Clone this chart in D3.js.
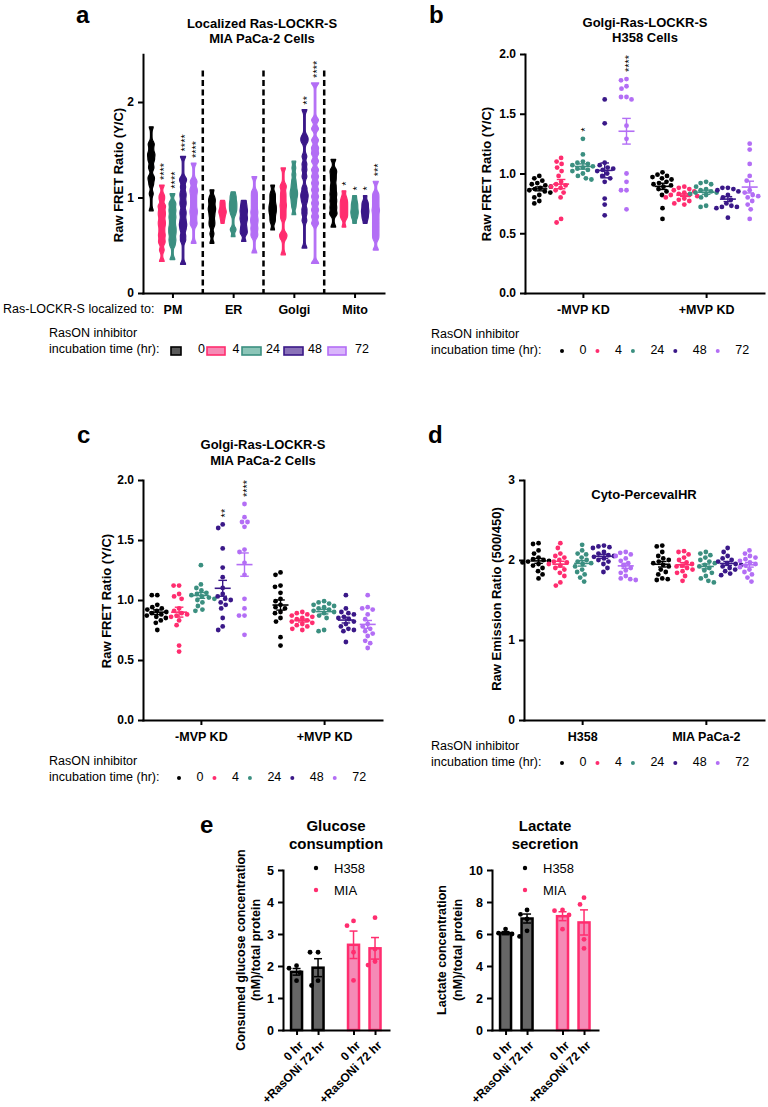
<!DOCTYPE html>
<html><head><meta charset="utf-8">
<script src="https://cdnjs.cloudflare.com/ajax/libs/d3/7.8.5/d3.min.js"></script>
<style>
body{margin:0;background:#fff;}
svg{display:block;}
</style></head><body>
<svg id="chart" width="768" height="1107"></svg>
<script>
// ---------------- DATA ----------------
const hours = ["0","4","24","48","72"];
const hourColors = ["#000000","#ff2d6f","#3b8f80","#3a1888","#b36ef5"];
const hourFills = ["#5a5a5a","#f58bb5","#8cc5b8","#8a72b8","#d9b5fb"];

// Panel a: violin samples (Raw FRET ratio) per localization, per time (0,4,24,48,72 h)
const aCategories = ["PM","ER","Golgi","Mito"];
const aPM = [
 [1.74,1.57,1.55,1.51,1.47,1.45,1.43,1.40,1.38,1.33,1.30,1.22,1.20,1.17,1.13,1.04,0.86],
 [1.13,1.02,0.98,0.92,0.90,0.86,0.83,0.80,0.76,0.73,0.70,0.66,0.62,0.59,0.55,0.52,0.45,0.33],
 [1.04,0.95,0.92,0.88,0.85,0.81,0.78,0.74,0.70,0.67,0.64,0.61,0.57,0.54,0.50,0.35],
 [1.43,1.20,1.17,1.11,1.05,1.01,0.96,0.92,0.86,0.82,0.77,0.73,0.70,0.66,0.60,0.55,0.30],
 [1.36,1.18,1.15,1.10,1.07,1.04,1.00,0.96,0.92,0.88,0.85,0.82,0.78,0.74,0.71,0.52]
];
const aER = [
 [1.08,1.01,0.98,0.96,0.93,0.90,0.88,0.86,0.83,0.80,0.76,0.73,0.70,0.62,0.52],
 [0.97,0.95,0.93,0.91,0.89,0.87,0.86,0.85,0.84,0.83,0.81,0.79,0.77,0.73],
 [1.06,1.02,1.00,0.97,0.95,0.93,0.91,0.89,0.87,0.85,0.82,0.67,0.66,0.59],
 [0.97,0.93,0.90,0.87,0.85,0.82,0.79,0.77,0.74,0.70,0.67,0.64,0.62,0.54],
 [1.22,1.06,1.02,0.98,0.94,0.90,0.86,0.83,0.79,0.76,0.73,0.69,0.66,0.62,0.59,0.42]
];
const aGolgi = [
 [1.13,1.05,1.02,0.99,0.96,0.93,0.91,0.89,0.87,0.85,0.83,0.80,0.77,0.74,0.66],
 [1.31,1.13,1.10,1.05,1.01,0.97,0.93,0.90,0.86,0.82,0.78,0.62,0.60,0.57,0.40],
 [1.38,1.31,1.24,1.18,1.14,1.11,1.08,1.06,1.04,1.02,1.00,0.97,0.94,0.90,0.82],
 [1.92,1.64,1.61,1.58,1.43,1.35,1.29,1.22,1.10,1.05,1.02,0.99,0.95,0.88,0.83,0.76,0.47],
 [2.20,1.81,1.72,1.60,1.52,1.46,1.38,1.29,1.22,1.15,1.08,1.01,0.94,0.87,0.80,0.73,0.31]
];
const aMito = [
 [1.40,1.29,1.26,1.22,1.18,1.13,1.09,1.05,1.02,0.98,0.95,0.91,0.88,0.84,0.82,0.69],
 [1.07,1.01,0.98,0.96,0.94,0.92,0.90,0.88,0.86,0.84,0.82,0.80,0.78,0.69],
 [1.02,0.98,0.95,0.93,0.91,0.89,0.87,0.85,0.84,0.82,0.80,0.78,0.73],
 [1.02,0.96,0.94,0.92,0.90,0.88,0.86,0.85,0.83,0.81,0.79,0.77,0.73],
 [1.17,1.04,1.00,0.96,0.92,0.88,0.85,0.81,0.77,0.73,0.69,0.65,0.61,0.57,0.45]
];
const aStars = [["","****","****","****","****"],["","","","",""],["","","","**","****"],["","*","*","*","***"]];
const aTicks = [0,1,2];

// Panel b: Golgi-Ras-LOCKR-S, H358
const mvpGroups = ["-MVP KD","+MVP KD"];
const bNoKD = [
 [0.98,0.96,0.94,0.92,0.91,0.90,0.89,0.88,0.87,0.86,0.85,0.84,0.82,0.80,0.77,0.75],
 [1.13,1.10,1.08,1.05,1.02,0.98,0.93,0.91,0.90,0.89,0.88,0.86,0.84,0.80,0.62,0.59],
 [1.29,1.16,1.10,1.09,1.08,1.07,1.06,1.05,1.04,1.03,1.02,1.00,0.98,0.96,0.95],
 [1.62,1.42,1.09,1.07,1.05,1.04,1.03,1.02,1.00,0.98,0.96,0.93,0.79,0.74,0.65],
 [1.79,1.78,1.73,1.71,1.64,1.64,1.62,1.40,1.29,1.00,0.93,0.86,0.86,0.70]
];
const bKD = [
 [1.01,0.99,0.98,0.97,0.96,0.95,0.93,0.92,0.91,0.90,0.89,0.87,0.85,0.82,0.71,0.62],
 [0.89,0.88,0.87,0.86,0.85,0.84,0.83,0.82,0.82,0.81,0.80,0.79,0.78,0.77,0.75,0.74],
 [0.93,0.92,0.91,0.89,0.87,0.86,0.85,0.84,0.84,0.83,0.82,0.80,0.73,0.72],
 [0.88,0.88,0.87,0.86,0.85,0.82,0.80,0.78,0.75,0.73,0.72,0.72,0.71,0.63],
 [1.25,1.20,1.08,0.98,0.94,0.84,0.86,0.82,0.81,0.80,0.77,0.74,0.70,0.62]
];
const bStars = [["","","*","","****"],["","","","",""]];
const fretTicks = [0,0.5,1,1.5,2];

// Panel c: Golgi-Ras-LOCKR-S, MIA PaCa-2
const cNoKD = [
 [1.04,1.04,0.96,0.94,0.93,0.92,0.91,0.90,0.89,0.88,0.87,0.86,0.85,0.83,0.81,0.75],
 [1.12,1.12,1.05,1.03,1.01,0.93,0.91,0.89,0.88,0.87,0.86,0.83,0.79,0.62,0.57],
 [1.29,1.13,1.10,1.08,1.06,1.05,1.04,1.03,1.02,1.01,1.00,0.98,0.95,0.92,0.91],
 [1.63,1.60,1.43,1.27,1.19,1.10,1.05,1.03,1.01,1.00,0.98,0.96,0.93,0.85,0.78,0.75],
 [1.80,1.69,1.65,1.65,1.61,1.42,1.40,1.31,1.21,1.01,0.93,0.87,0.87,0.71]
];
const cKD = [
 [1.23,1.21,1.12,1.11,1.06,1.01,0.99,0.96,0.94,0.93,0.90,0.89,0.85,0.82,0.69,0.62],
 [0.90,0.89,0.88,0.87,0.86,0.85,0.84,0.83,0.82,0.81,0.80,0.79,0.78,0.76,0.75],
 [0.99,0.98,0.97,0.96,0.95,0.94,0.93,0.92,0.91,0.90,0.89,0.87,0.85,0.75,0.74],
 [1.04,0.93,0.90,0.89,0.88,0.86,0.85,0.84,0.82,0.80,0.78,0.76,0.75,0.74,0.65],
 [1.04,0.94,0.93,0.92,0.88,0.84,0.80,0.78,0.76,0.74,0.72,0.70,0.66,0.64,0.60]
];
const cStars = [["","","","**","****"],["","","","",""]];

// Panel d: Cyto-PercevalHR
const dGroups = ["H358","MIA PaCa-2"];
const dH358 = [
 [2.21,2.20,2.12,2.08,2.03,2.01,2.00,1.99,1.98,1.97,1.95,1.93,1.90,1.86,1.82,1.77],
 [2.21,2.15,2.08,2.05,2.03,2.00,1.98,1.97,1.95,1.93,1.90,1.88,1.84,1.80,1.72,1.68],
 [2.19,2.12,2.08,2.07,2.03,2.00,1.98,1.96,1.95,1.92,1.88,1.85,1.82,1.78,1.73],
 [2.18,2.17,2.16,2.15,2.10,2.08,2.06,2.05,2.04,2.02,2.00,1.98,1.95,1.90,1.85],
 [2.10,2.09,2.07,2.05,2.02,1.99,1.96,1.93,1.90,1.87,1.84,1.80,1.77,1.76,1.75]
];
const dMIA = [
 [2.18,2.17,2.10,2.05,2.02,2.00,1.98,1.96,1.94,1.92,1.88,1.85,1.82,1.77,1.76,1.75],
 [2.11,2.10,2.07,2.03,2.00,1.97,1.95,1.93,1.92,1.90,1.88,1.86,1.84,1.80,1.74],
 [2.10,2.08,2.06,2.03,2.00,1.98,1.96,1.94,1.92,1.90,1.87,1.84,1.80,1.77,1.74,1.72],
 [2.15,2.10,2.05,2.02,2.00,1.98,1.96,1.95,1.94,1.92,1.90,1.88,1.86,1.83,1.81],
 [2.12,2.08,2.05,2.03,2.01,1.99,1.97,1.95,1.93,1.91,1.88,1.85,1.82,1.78,1.73]
];
const dStars = [["","","","",""],["","","","",""]];
const dTicks = [0,1,2,3];

// Panel e
const eLines = ["H358","MIA"];
const eTimeLabels = ["0 hr","+RasONi 72 hr"];
const glucoseH358 = [[1.93,2.01,1.54,1.79],[2.43,2.43,1.39,1.54]];
const glucoseMIA = [[3.41,3.26,2.43,1.55],[3.51,2.53,2.03,2.14]];
const lactateH358 = [[6.31,6.00,5.85,6.05],[7.50,7.23,6.94,6.20]];
const lactateMIA = [[7.50,7.46,7.19,6.30],[8.27,7.85,5.67,5.10]];
const glucoseTicks = [0,1,2,3,4,5];
const lactateTicks = [0,2,4,6,8,10];

// ---------------- DRAWING ----------------
const svg = d3.select("#chart");
const FONT = '"Liberation Sans", Arial, Helvetica, sans-serif';

function txt(x, y, s, o = {}) {
  const t = svg.append("text").attr("x", x).attr("y", y).text(s)
    .attr("font-family", FONT).attr("font-size", o.size || 12.5)
    .attr("font-weight", o.bold ? "bold" : "normal").attr("fill", o.fill || "#000")
    .attr("text-anchor", o.anchor || "start");
  if (o.rotate != null) t.attr("transform", `rotate(${o.rotate},${x},${y})`);
  return t;
}
function line(x1, y1, x2, y2, col, w) {
  svg.append("line").attr("x1", x1).attr("y1", y1).attr("x2", x2).attr("y2", y2)
    .attr("stroke", col).attr("stroke-width", w);
}
function styleAxis(g, size) {
  g.attr("font-family", FONT).attr("font-size", size).attr("font-weight", "bold");
  g.selectAll(".domain").attr("stroke", "#000").attr("stroke-width", 2).attr("stroke-linecap", "square");
  g.selectAll(".tick line").attr("stroke", "#000").attr("stroke-width", 2);
  g.selectAll(".tick text").attr("fill", "#000");
}
function yAxis(x0, y, ticks, fmt, size) {
  const g = svg.append("g").attr("transform", `translate(${x0},0)`)
    .call(d3.axisLeft(y).tickValues(ticks).tickFormat(fmt).tickSize(5).tickPadding(4).tickSizeOuter(0));
  styleAxis(g, size || 12);
  return g;
}
function xAxis(y0, x, size) {
  const g = svg.append("g").attr("transform", `translate(0,${y0})`)
    .call(d3.axisBottom(x).tickSize(5).tickPadding(7).tickSizeOuter(0));
  styleAxis(g, size || 12.5);
  return g;
}
function starText(x, yb, s) {
  if (!s) return;
  svg.append("text").attr("transform", `translate(${x},${yb}) rotate(-90)`)
    .attr("dy", "0.55em").attr("font-family", FONT).attr("font-size", 11)
    .attr("fill", "#000").text(s);
}
function swarm(vals, y, cx, r, gap) {
  const d = 2 * r + gap;
  const pts = vals.map(v => ({ v, y: y(v) })).sort((a, b) => a.y - b.y);
  const placed = [];
  for (const p of pts) {
    for (let k = 0; k < 400; k++) {
      const off = (k % 2 === 0 ? 1 : -1) * Math.ceil(k / 2) * 0.5;
      const xx = cx + off;
      if (placed.every(q => (q.x - xx) ** 2 + (q.y - p.y) ** 2 >= d * d)) { p.x = xx; break; }
    }
    placed.push(p);
  }
  return placed;
}
function meanSem(cx, vals, y, col, hw, cw) {
  const m = d3.mean(vals), se = d3.deviation(vals) / Math.sqrt(vals.length);
  line(cx - hw, y(m), cx + hw, y(m), col, 1.6);
  line(cx, y(m - se), cx, y(m + se), col, 1.4);
  line(cx - cw, y(m + se), cx + cw, y(m + se), col, 1.4);
  line(cx - cw, y(m - se), cx + cw, y(m - se), col, 1.4);
}

// ---- Panel a ----
(function () {
  txt(76, 23, "a", { size: 24, bold: true });
  txt(262, 28, "Localized Ras-LOCKR-S", { size: 13, bold: true, anchor: "middle" });
  txt(262, 43, "MIA PaCa-2 Cells", { size: 13, bold: true, anchor: "middle" });
  txt(123, 175, "Raw FRET Ratio (Y/C)", { size: 13, bold: true, anchor: "middle", rotate: -90 });
  const y = d3.scaleLinear([0, 2.5], [293, 54.25]);
  const x = d3.scalePoint(aCategories, [143, 384]).padding(0.485);
  const step = x.step();
  aCategories.slice(0, -1).forEach(c => {
    const xx = x(c) + step / 2;
    svg.append("line").attr("x1", xx).attr("x2", xx).attr("y1", y(2.33)).attr("y2", y(0))
      .attr("stroke", "#000").attr("stroke-width", 2.5).attr("stroke-dasharray", "6,3.5");
  });
  const all = [aPM, aER, aGolgi, aMito];
  all.forEach((series, ci) => {
    series.forEach((vals, ti) => {
      const cx = x(aCategories[ci]) + (ti - 2) * 10.6;
      const lo = d3.min(vals), hi = d3.max(vals), h = 0.022, n = 120;
      const grid = d3.range(n + 1).map(i => lo + (hi - lo) * i / n);
      const dens = grid.map(t => d3.sum(vals, v => Math.exp(-0.5 * ((t - v) / h) ** 2)));
      const dmax = d3.max(dens);
      const w = dens.map(dd => 0.8 + 2.9 * (dd / dmax));
      const area = d3.area().x0((d, i) => cx - w[i]).x1((d, i) => cx + w[i]).y(d => y(d)).curve(d3.curveBasis);
      svg.append("path").datum(grid).attr("d", area)
        .attr("fill", hourColors[ti]).attr("stroke", hourColors[ti]).attr("stroke-width", 1.2)
        .attr("stroke-linejoin", "round");
      starText(cx, y(hi) - 5, aStars[ci][ti]);
    });
  });
  yAxis(143, y, aTicks, d3.format("d"));
  xAxis(293, x, 12.5);
  txt(3, 313, "Ras-LOCKR-S localized to:", { size: 12.5 });
  txt(49, 337, "RasON inhibitor", { size: 12.5 });
  txt(49, 353, "incubation time (hr):", { size: 12.5 });
  const swX = [171, 207, 242, 284, 328], swW = [10, 18, 19, 19, 18], labEnd = [205, 239.5, 280, 322, 369];
  hours.forEach((hh, i) => {
    svg.append("rect").attr("x", swX[i]).attr("y", 347).attr("width", swW[i]).attr("height", 8)
      .attr("fill", hourFills[i]).attr("stroke", hourColors[i]).attr("stroke-width", 1.6);
    txt(labEnd[i], 353, hh, { size: 12.5, anchor: "end" });
  });
})();

// ---- dot panels ----
function dotPanel(cfg) {
  const y = d3.scaleLinear([0, cfg.ymax], [cfg.y0, cfg.yTop]);
  const x = d3.scalePoint(cfg.groups, [cfg.x0, cfg.x1]).padding(0.47);
  yAxis(cfg.x0, y, cfg.ticks, cfg.fmt);
  xAxis(cfg.y0, x, 12.5);
  cfg.data.forEach((series, gi) => {
    series.forEach((vals, ti) => {
      const cx = x(cfg.groups[gi]) + (ti - 2) * 21.8;
      const col = hourColors[ti];
      const pts = swarm(vals, y, cx, 2.4, 0.6);
      svg.append("g").selectAll("circle").data(pts).join("circle")
        .attr("cx", d => d.x).attr("cy", d => d.y).attr("r", 2.4).attr("fill", col);
      meanSem(cx, vals, y, col, 8, 4.3);
      starText(cx, y(d3.max(vals)) - 7, cfg.stars[gi][ti]);
    });
  });
  txt(cfg.legX, cfg.legY1, "RasON inhibitor", { size: 12.5 });
  txt(cfg.legX, cfg.legY2, "incubation time (hr):", { size: 12.5 });
  let xx = cfg.dotX;
  hours.forEach((hh, i) => {
    svg.append("circle").attr("cx", xx).attr("cy", cfg.legY2 - 3).attr("r", 2).attr("fill", hourColors[i]);
    const t = txt(xx + 17.5, cfg.legY2, hh, { size: 12.5 });
    xx = xx + 17.5 + t.node().getComputedTextLength() + 11;
  });
}

// b
txt(429, 23, "b", { size: 24, bold: true });
txt(645, 27, "Golgi-Ras-LOCKR-S", { size: 13, bold: true, anchor: "middle" });
txt(645, 42, "H358 Cells", { size: 13, bold: true, anchor: "middle" });
txt(491, 174, "Raw FRET Ratio (Y/C)", { size: 13, bold: true, anchor: "middle", rotate: -90 });
dotPanel({ groups: mvpGroups, data: [bNoKD, bKD], stars: bStars, ymax: 2, y0: 293, yTop: 54,
  x0: 525, x1: 764, ticks: fretTicks, fmt: d3.format(".1f"),
  legX: 431, legY1: 338, legY2: 354, dotX: 562 });

// c
txt(77, 443, "c", { size: 24, bold: true });
txt(263, 449, "Golgi-Ras-LOCKR-S", { size: 13, bold: true, anchor: "middle" });
txt(263, 465, "MIA PaCa-2 Cells", { size: 13, bold: true, anchor: "middle" });
txt(111, 601, "Raw FRET Ratio (Y/C)", { size: 13, bold: true, anchor: "middle", rotate: -90 });
dotPanel({ groups: mvpGroups, data: [cNoKD, cKD], stars: cStars, ymax: 2, y0: 720, yTop: 480,
  x0: 143, x1: 382, ticks: fretTicks, fmt: d3.format(".1f"),
  legX: 49, legY1: 765, legY2: 781, dotX: 179 });

// d
txt(428, 443, "d", { size: 24, bold: true });
txt(644, 499, "Cyto-PercevalHR", { size: 13, bold: true, anchor: "middle" });
txt(501, 599, "Raw Emission Ratio (500/450)", { size: 13, bold: true, anchor: "middle", rotate: -90 });
dotPanel({ groups: dGroups, data: [dH358, dMIA], stars: dStars, ymax: 3, y0: 720, yTop: 480,
  x0: 524, x1: 764, ticks: dTicks, fmt: d3.format("d"),
  legX: 431, legY1: 750, legY2: 766, dotX: 562 });

// ---- Panel e ----
txt(200, 833, "e", { size: 24, bold: true });
function barPanel(cfg) {
  const y = d3.scaleLinear([0, cfg.ymax], [1030, 870]);
  const pos = [0, 1, 2.65, 3.65];
  const x = d3.scaleLinear([-0.63, 4.3], [cfg.x0, cfg.x0 + 106]);
  txt(cfg.x0 + 53, 831, cfg.title[0], { size: 15, bold: true, anchor: "middle" });
  txt(cfg.x0 + 53, 849, cfg.title[1], { size: 15, bold: true, anchor: "middle" });
  txt(cfg.ylx1, 950, cfg.ylab[0], { size: 12.5, bold: true, anchor: "middle", rotate: -90 });
  txt(cfg.ylx2, 950, cfg.ylab[1], { size: 12.5, bold: true, anchor: "middle", rotate: -90 });
  const groups = [cfg.h358, cfg.mia];
  groups.forEach((grp, gi) => {
    const stroke = gi === 0 ? "#000000" : hourColors[1];
    const fill = gi === 0 ? "#666666" : "#f58ab6";
    grp.forEach((vals, ti) => {
      const cx = x(pos[gi * 2 + ti]);
      const m = d3.mean(vals), se = d3.deviation(vals) / Math.sqrt(vals.length);
      svg.append("rect").attr("x", cx - 5.5).attr("y", y(m)).attr("width", 11).attr("height", y(0) - y(m))
        .attr("fill", fill).attr("stroke", stroke).attr("stroke-width", 2.5);
      line(cx, y(m - se), cx, y(m + se), stroke, 1.5);
      line(cx - 4, y(m + se), cx + 4, y(m + se), stroke, 1.5);
      line(cx - 4, y(m - se), cx + 4, y(m - se), stroke, 1.5);
      const pts = swarm(vals, y, cx, 2.4, 3);
      svg.append("g").selectAll("circle").data(pts).join("circle")
        .attr("cx", d => d.x).attr("cy", d => d.y).attr("r", 2.4).attr("fill", stroke);
    });
  });
  yAxis(cfg.x0, y, cfg.ticks, d3.format("d"), 12.5);
  const gx = svg.append("g").attr("transform", "translate(0,1030)")
    .call(d3.axisBottom(x).tickValues(pos).tickFormat((d, i) => eTimeLabels[i % 2]).tickSize(5).tickSizeOuter(0));
  styleAxis(gx, 12);
  gx.selectAll(".tick text").attr("y", 0).attr("dy", "0.35em").attr("text-anchor", "end")
    .attr("transform", "translate(4,13) rotate(-45)");
  eLines.forEach((nm, i) => {
    svg.append("circle").attr("cx", cfg.x0 + 33).attr("cy", 868 + i * 22).attr("r", 2.2)
      .attr("fill", i === 0 ? "#000" : hourColors[1]);
    txt(cfg.x0 + 51, 873 + i * 22, nm, { size: 13 });
  });
}
barPanel({ x0: 283, ymax: 5, ticks: glucoseTicks, h358: glucoseH358, mia: glucoseMIA,
  title: ["Glucose", "consumption"], ylab: ["Consumed glucose concentration", "(nM)/total protein"], ylx1: 245, ylx2: 260 });
barPanel({ x0: 492, ymax: 10, ticks: lactateTicks, h358: lactateH358, mia: lactateMIA,
  title: ["Lactate", "secretion"], ylab: ["Lactate concentration", "(nM)/total protein"], ylx1: 446, ylx2: 462 });
</script>
</body></html>
